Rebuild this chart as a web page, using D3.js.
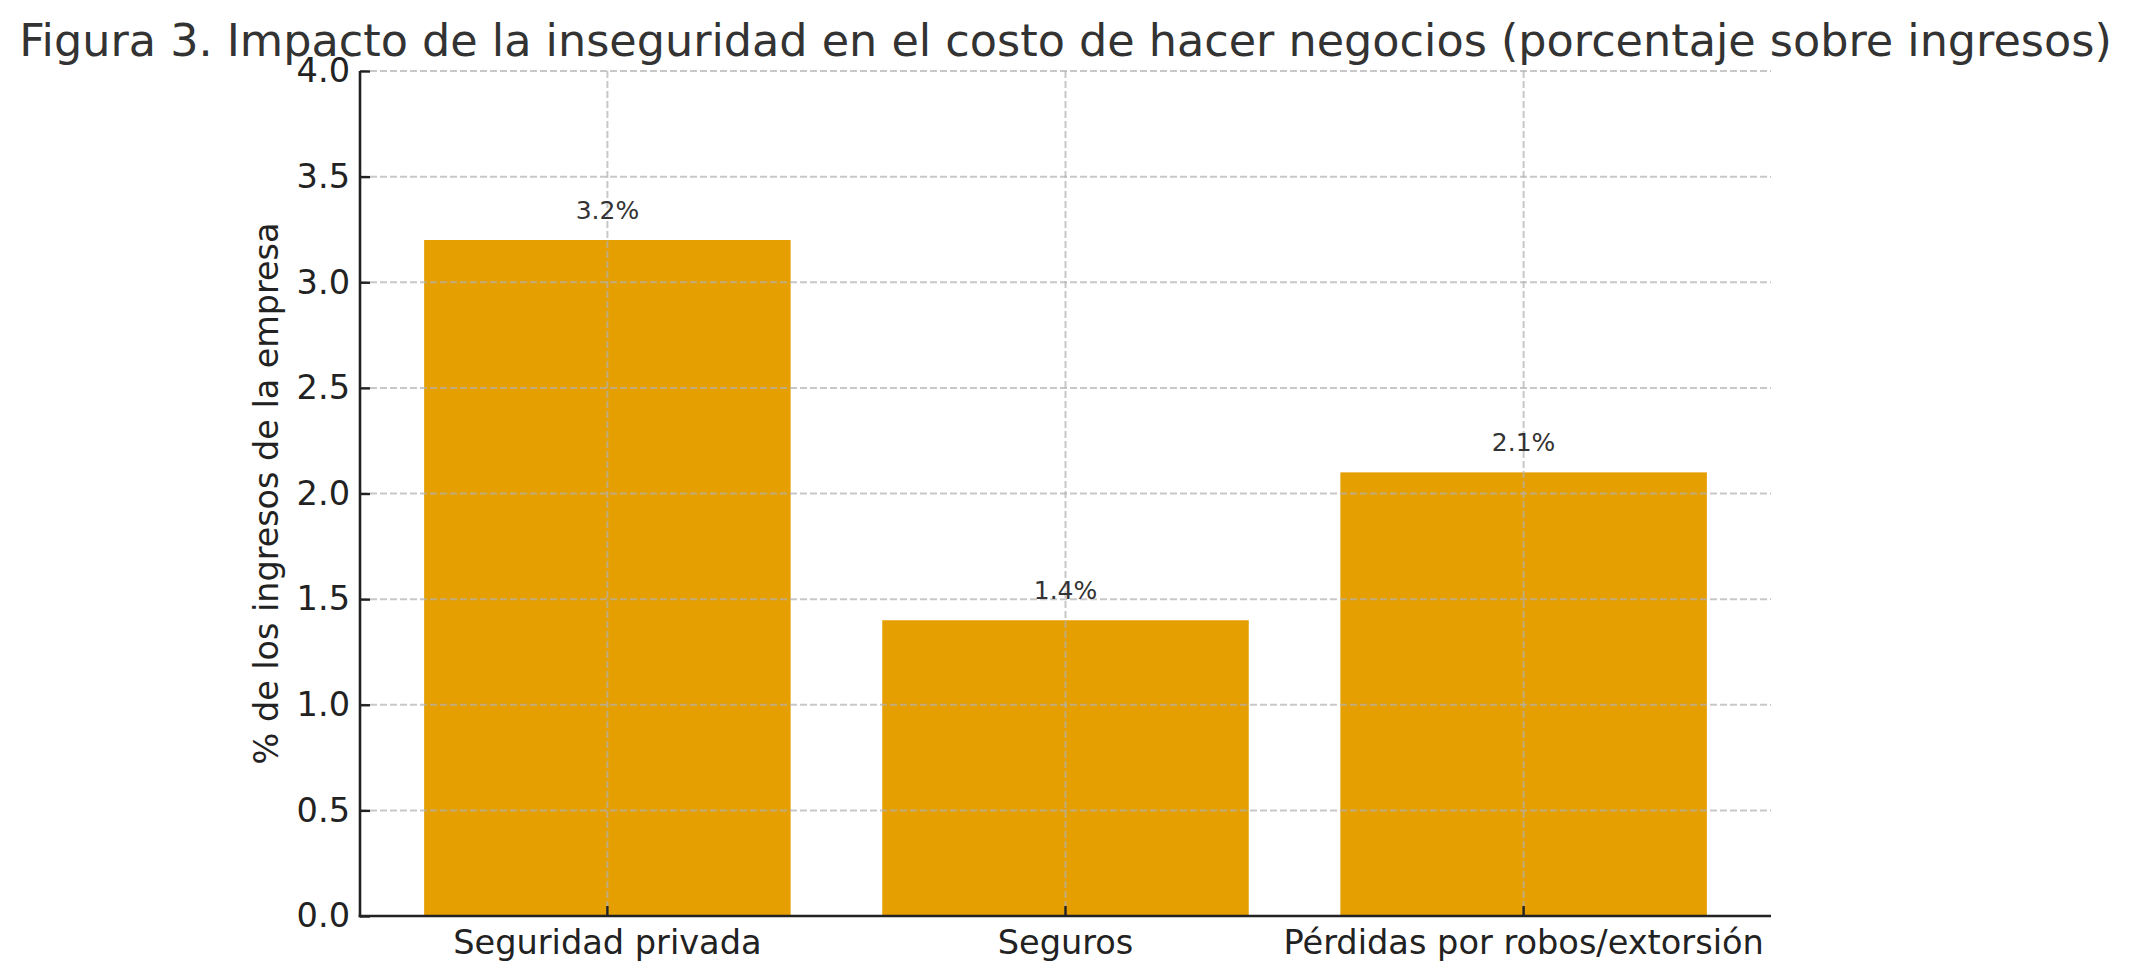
<!DOCTYPE html>
<html>
<head>
<meta charset="utf-8">
<script src="https://cdn.jsdelivr.net/npm/d3@7"></script>
<style>
  body { margin: 0; background: #fff; }
  text { font-family: "DejaVu Sans", sans-serif; }
</style>
</head>
<body>
<div class="chart"></div>
<script>
const categories = ["Seguridad privada", "Seguros", "Pérdidas por robos/extorsión"]
const values = [3.2, 1.4, 2.1]
const y_ticks = [0, 0.5, 1.0, 1.5, 2.0, 2.5, 3.0, 3.5, 4.0]
const title = "Figura 3. Impacto de la inseguridad en el costo de hacer negocios (porcentaje sobre ingresos)"
const y_label = "% de los ingresos de la empresa"

const width = 2131
const height = 980
const plot = {left: 360, right: 1771, top: 71, bottom: 916}
const bar_color = "#E69F00"

const svg = d3.select(".chart").append("svg")
  .attr("width", width)
  .attr("height", height)

const x = d3.scaleBand()
  .domain(categories)
  .range([plot.left, plot.right])
  .paddingInner(0.2)
  .paddingOuter(0.14)

const y = d3.scaleLinear()
  .domain([0, 4])
  .range([plot.bottom, plot.top])

// bars
svg.append("g").selectAll("rect")
  .data(categories)
  .enter()
  .append("rect")
  .attr("x", d => x(d))
  .attr("width", x.bandwidth())
  .attr("y", (d, i) => y(values[i]))
  .attr("height", (d, i) => y(0) - y(values[i]))
  .attr("fill", bar_color)

// grid, drawn over the bars
const grid = svg.append("g")
  .attr("stroke", "#b0b0b0")
  .attr("stroke-opacity", 0.7)
  .attr("stroke-width", 2)
  .attr("stroke-dasharray", "7,3")

grid.selectAll("line.h")
  .data(y_ticks)
  .enter()
  .append("line")
  .attr("class", "h")
  .attr("x1", plot.left)
  .attr("x2", plot.right)
  .attr("y1", d => y(d))
  .attr("y2", d => y(d))

grid.selectAll("line.v")
  .data(categories)
  .enter()
  .append("line")
  .attr("class", "v")
  .attr("x1", d => x(d) + x.bandwidth() / 2)
  .attr("x2", d => x(d) + x.bandwidth() / 2)
  .attr("y1", plot.top)
  .attr("y2", plot.bottom)

// axes
const yAxis = svg.append("g")
  .attr("transform", `translate(${plot.left},0)`)
  .call(d3.axisLeft(y).tickValues(y_ticks).tickFormat(d3.format(".1f"))
    .tickSizeInner(-10).tickSizeOuter(0).tickPadding(10))

const xAxis = svg.append("g")
  .attr("transform", `translate(0,${plot.bottom})`)
  .call(d3.axisBottom(x).tickSizeInner(-10).tickSizeOuter(0).tickPadding(14))

for (const ax of [yAxis, xAxis]) {
  ax.select(".domain").attr("stroke", "#222").attr("stroke-width", 2.6)
  ax.selectAll(".tick line").attr("stroke", "#222").attr("stroke-width", 2.4)
  ax.selectAll(".tick text")
    .attr("fill", "#222")
    .attr("font-family", "DejaVu Sans")
    .attr("font-size", "33.6px")
}
yAxis.select(".domain").attr("d", `M0,${plot.bottom + 1.3}V${plot.top}`)
xAxis.select(".domain").attr("d", `M${plot.left - 1.3},0H${plot.right}`)

// value labels
svg.append("g").selectAll("text")
  .data(categories)
  .enter()
  .append("text")
  .attr("x", d => x(d) + x.bandwidth() / 2)
  .attr("y", (d, i) => y(values[i] + 0.1))
  .attr("text-anchor", "middle")
  .attr("font-size", "25px")
  .attr("fill", "#333")
  .text((d, i) => values[i].toFixed(1) + "%")

// title
svg.append("text")
  .attr("x", width / 2)
  .attr("y", 56)
  .attr("text-anchor", "middle")
  .attr("font-size", "44.5px")
  .attr("fill", "#333")
  .text(title)

// y label
svg.append("text")
  .attr("transform", `translate(278,${(plot.top + plot.bottom) / 2}) rotate(-90)`)
  .attr("text-anchor", "middle")
  .attr("font-size", "33.4px")
  .attr("fill", "#222")
  .text(y_label)
</script>
</body>
</html>
